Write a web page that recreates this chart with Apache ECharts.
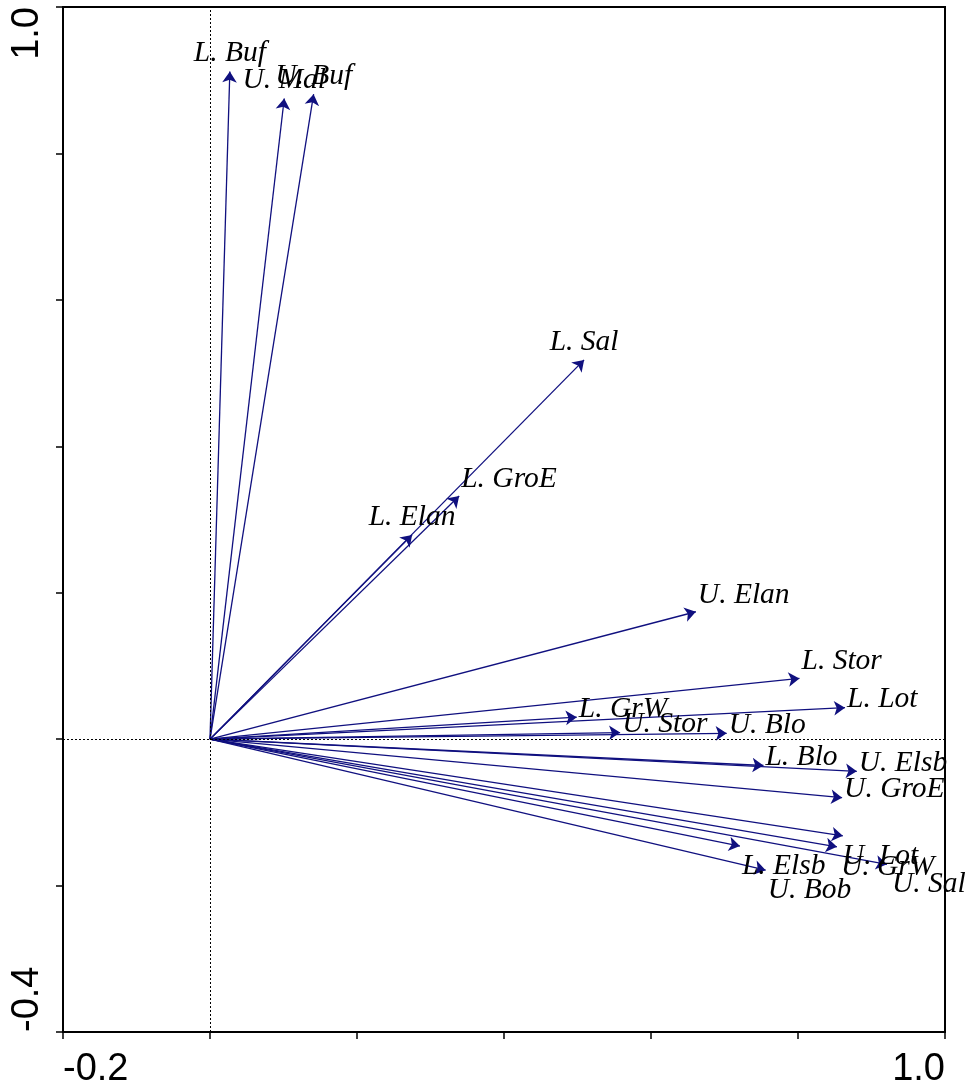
<!DOCTYPE html>
<html>
<head>
<meta charset="utf-8">
<script src="https://cdn.jsdelivr.net/npm/echarts@6/dist/echarts.min.js"></script>
<style>
html,body{margin:0;padding:0;background:#fff;}
#chart{width:969px;height:1089px;}
</style>
</head>
<body>
<div id="chart"></div>
<script>
// ---- data ----
const names = ['L. Buf','U. Mal','U. Buf','L. Sal','L. GroE','L. Elan','U. Elan','L. Stor','L. Lot','L. GrW','U. Stor','U. Blo','L. Blo','U. Elsb','U. GroE','U. Lot','U. GrW','U. Sal','L. Elsb','U. Bob'];
const xVals = [0.027,0.101,0.141,0.509,0.339,0.275,0.661,0.802,0.864,0.499,0.558,0.703,0.753,0.880,0.860,0.861,0.853,0.921,0.721,0.756];
const yVals = [0.912,0.875,0.881,0.518,0.332,0.279,0.174,0.083,0.043,0.030,0.009,0.008,-0.036,-0.044,-0.080,-0.132,-0.147,-0.171,-0.146,-0.179];
const xTicks = [-0.2, 1.0];
const yTicks = [-0.4, 1.0];

// ---- label placement (style) ----
const placement = {
  'L. Buf':'c','U. Mal':'c','U. Buf':'c','L. Sal':'c','L. GroE':'a','L. Elan':'c',
  'U. Elan':'a','L. Stor':'a','L. Lot':'r','L. GrW':'r','U. Stor':'r','U. Blo':'r',
  'L. Blo':'r','U. Elsb':'r','U. GroE':'r','U. Lot':'b','U. GrW':'b','U. Sal':'b',
  'L. Elsb':'b','U. Bob':'b'
};
const xShift = {'U. Sal':5,'U. GrW':4,'U. Lot':0};
function labelFor(n){
  const p = placement[n];
  const dx = (xShift[n] !== undefined) ? xShift[n] : 2;
  if (p === 'c') return {align:'center', verticalAlign:'bottom', offset:[0,-3]};
  if (p === 'a') return {align:'left', verticalAlign:'bottom', offset:[dx,-2]};
  if (p === 'r') return {align:'left', verticalAlign:'bottom', offset:[dx,7]};
  return {align:'left', verticalAlign:'top', offset:[dx,5]};
}

const lineData = names.map((n,i)=>({coords:[[0,0],[xVals[i],yVals[i]]]}));
const pointData = names.map((n,i)=>({value:[xVals[i],yVals[i]], name:n, label:labelFor(n)}));

const chart = echarts.init(document.getElementById('chart'), null, {renderer:'canvas'});
const axisFont = {fontFamily:'Liberation Sans, Arial, sans-serif', fontSize:38, color:'#000'};
chart.setOption({
  backgroundColor:'#fff',
  animation:false,
  grid:{left:63, top:7, right:24, bottom:56, show:true, borderColor:'#000', borderWidth:2, backgroundColor:'transparent'},
  xAxis:{
    type:'value', min:-0.2, max:1.0, interval:0.2,
    axisLine:{show:true, onZero:false, lineStyle:{color:'#000', width:2}},
    axisTick:{show:true, length:7, inside:false, lineStyle:{color:'#000', width:1.5}},
    splitLine:{show:false},
    axisLabel:Object.assign({
      margin:19,
      alignMinLabel:'left', alignMaxLabel:'right',
      formatter:v=>{ const t = xTicks.find(k=>Math.abs(k-v)<1e-6); return t===undefined?'':t.toFixed(1);} 
    }, axisFont)
  },
  yAxis:{
    type:'value', min:-0.4, max:1.0, interval:0.2,
    axisLine:{show:true, onZero:false, lineStyle:{color:'#000', width:2}},
    axisTick:{show:true, length:7, inside:false, lineStyle:{color:'#000', width:1.5}},
    splitLine:{show:false},
    axisLabel:Object.assign({
      margin:16, rotate:90,
      alignMinLabel:'left', alignMaxLabel:'right',
      formatter:v=>{ const t = yTicks.find(k=>Math.abs(k-v)<1e-6); return t===undefined?'':t.toFixed(1);} 
    }, axisFont)
  },
  series:[
    {
      type:'lines', coordinateSystem:'cartesian2d', silent:true,
      symbol:['none','arrow'], symbolSize:[7,11],
      lineStyle:{color:'#10107f', width:1.3, opacity:1, curveness:0},
      data:lineData,
      markLine:{
        silent:true, symbol:'none', animation:false,
        label:{show:false},
        lineStyle:{type:[2,2], color:'#000', width:1},
        data:[{xAxis:0},{yAxis:0}]
      }
    },
    {
      type:'scatter', symbolSize:0, silent:true,
      label:{show:true, position:[0,0], formatter:p=>p.name,
        fontFamily:'Liberation Serif, Times New Roman, serif', fontStyle:'italic', fontSize:29.5, color:'#000', opacity:1},
      data:pointData
    }
  ]
});
</script>
</body>
</html>
